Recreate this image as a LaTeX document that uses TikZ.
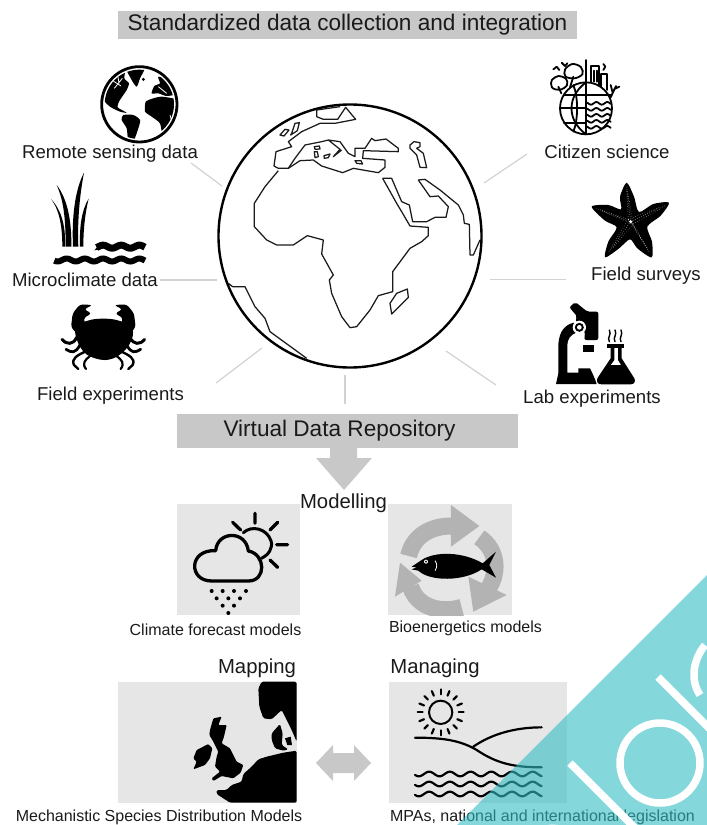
\documentclass[tikz,border=0pt]{standalone}
\usepackage{fontspec}
\setmainfont{Liberation Sans}
\usetikzlibrary{calc}
\definecolor{ink}{HTML}{1A1A1A}
\definecolor{barGrey}{HTML}{C8C8C8}
\definecolor{panel}{HTML}{E6E6E6}
\definecolor{rec}{HTML}{B3B3B3}
\definecolor{spoke}{HTML}{D2D2D2}
\definecolor{tealc}{RGB}{50,190,197}
\tikzset{
 zc/.style 2 args={shift={(#1pt,-#2pt)},x=.33333pt,y=-.33333pt},
 lab/.style={font=\fontsize{18.6pt}{20pt}\selectfont,text=ink,inner sep=0pt},
 sublab/.style={font=\fontsize{16pt}{18pt}\selectfont,text=ink,inner sep=0pt},
 head/.style={font=\fontsize{20.3pt}{22pt}\selectfont,text=ink,inner sep=0pt},
 bar/.style={fill=barGrey,inner sep=0pt,font=\fontsize{22.6pt}{24pt}\selectfont,text=ink},
 spokeline/.style={draw=spoke,line width=1.2pt},
 coast/.style={line width=1.25pt,draw=ink,line join=round},
 stroke/.style={draw=black,line cap=round,line join=round},
 logo/.style={draw=white,line width=7.5pt},
}
\begin{document}
\begin{tikzpicture}[x=1pt,y=-1pt]
\useasboundingbox (0,0) rectangle (707,825);
% bars
\node[bar,minimum width=459pt,minimum height=28pt] (title) at (347.5,25) {\raisebox{-1pt}{Standardized data collection and integration}};
\node[bar,minimum width=341pt,minimum height=34pt] (repo) at (347.5,431) {\hspace*{-16pt}\raisebox{-1pt}{Virtual Data Repository}};
\fill[barGrey] (330,448) -- (357,448) -- (357,458) -- (372,458) -- (344,490) -- (316,458) -- (330,458) -- cycle;
% earth
\node[circle,draw=black,line width=2.4pt,minimum size=263pt,inner sep=0pt] (earth) at (350,236) {};
\begin{scope}[zc={200}{90}]
 \draw[coast] (548,265) -- (575,265) -- (605,335) -- (628,345) -- (638,395) -- (680,395) -- (705,382) -- (738,382) -- (745,350) -- (715,318) -- (690,320) -- (655,270) -- (675,268) -- (720,300) -- (775,345) -- (790,375) -- (793,400) -- (808,403) -- (810,495) -- (820,495) -- (840,450);
 \draw[coast] (548,265) -- (590,340) -- (605,365) -- (630,408) -- (685,412) -- (685,437) -- (665,455) -- (630,475) -- (578,545) -- (578,605) -- (535,617) -- (510,660) -- (470,710) -- (450,713) -- (425,680) -- (395,610) -- (388,570) -- (400,555) -- (365,492) -- (370,450) -- (322,437) -- (280,465) -- (230,465) -- (200,450) -- (163,410) -- (163,340) -- (195,290) -- (235,242);
 \draw[coast] (570,640) -- (575,672) -- (625,622) -- (622,597) -- (590,610) -- cycle;
 \draw[coast] (85,580) -- (98,590) -- (135,590) -- (165,650) -- (195,685) -- (210,725) -- (320,805);
\end{scope}
\begin{scope}[zc={260}{90}]
 \draw[coast] (240,50) -- (170,60) -- (170,80) -- (190,88) -- (233,88) -- (257,52) -- (287,88) -- (225,100) -- (180,100) -- (125,125) -- (85,155) -- (95,170) -- (48,185) -- (42,228) -- (55,235) -- (85,235) -- (120,212) -- (160,210) -- (185,228) -- (248,248) -- (280,235) -- (355,248) -- (375,232) -- (375,210) -- (308,205) -- (310,182) -- (415,185) -- (415,175) -- (378,147) -- (345,152) -- (335,145) -- (315,175) -- (285,175) -- (285,200) -- (265,190) -- (240,155) -- (205,150) -- (240,178) -- (220,200) -- (245,180);
 \draw[coast] (85,235) -- (105,205) -- (135,165) -- (185,155) -- (205,150);
 \draw[coast] (60,135) -- (75,118) -- (87,120) -- (72,138) -- cycle;
 \draw[coast] (95,130) -- (105,100) -- (118,98) -- (112,122) -- (92,135) -- cycle;
 \draw[coast] (163,170) -- (178,168) -- (180,177) -- (165,178) -- cycle;
 \draw[coast] (163,185) -- (172,185) -- (175,200) -- (165,203) -- cycle;
 \draw[coast] (192,197) -- (210,192) -- (205,203) -- (193,205) -- cycle;
 \draw[coast] (285,212) -- (303,212) -- (308,222) -- (290,220) -- cycle;
 \draw[coast] (450,165) -- (462,155) -- (480,158) -- (480,170) -- (470,175) -- (490,190) -- (500,233) -- (480,232) -- (470,195) -- (450,175) -- cycle;
\end{scope}
% labels
\node[lab] (remote) at (110,154) {Remote sensing data};
\node[lab] (micro) at (85,280) {Microclimate data};
\node[lab] (fieldexp) at (110.5,395.5) {Field experiments};
\node[lab] (citizen) at (607,152) {Citizen science};
\node[lab] (surveys) at (646,276) {Field surveys};
\node[lab] (labexp) at (592,399) {Lab experiments};
\node[head] (model) at (343.5,503.5) {Modelling};
% spokes
\coordinate (s1) at (191,163); \coordinate (e1) at (222,186);
\coordinate (s2) at (160,280); \coordinate (e2) at (217,280);
\coordinate (s3) at (216,383); \coordinate (e3) at (262,348);
\coordinate (s4) at (345,404); \coordinate (e4) at (345,375);
\coordinate (s5) at (496,385); \coordinate (e5) at (446,351);
\coordinate (s6) at (566,279.5); \coordinate (e6) at (490,279.5);
\coordinate (s7) at (527,154); \coordinate (e7) at (484,183);
\foreach \i in {1,...,7}{\draw[spokeline] (s\i) -- (e\i);}
% globe icon
\begin{scope}[zc={95}{60}]
 \draw[line width=2.8pt] (133,133) circle (113);
 \begin{scope}
 \clip (133,133) circle (104);
 \fill plot[smooth cycle,tension=.4] coordinates {(25,118) (30,85) (55,45) (90,25) (88,55) (102,70) (95,90) (85,105) (72,125) (68,142) (95,158) (75,155) (45,140)};
 \fill plot[smooth cycle,tension=.4] coordinates {(85,165) (115,165) (135,180) (130,205) (115,245) (100,245) (95,205) (80,180)};
 \fill plot[smooth cycle,tension=.4] coordinates {(92,18) (150,18) (135,55) (125,80) (110,60)};
 \fill plot[smooth cycle,tension=.3] coordinates {(175,115) (200,110) (245,120) (250,180) (222,215) (205,238) (195,190) (170,170) (150,155) (152,125)};
 \fill plot[smooth cycle,tension=.4] coordinates {(170,100) (178,78) (195,70) (190,50) (225,62) (245,100) (215,108) (190,100)};
 \draw[white,line width=.8pt] (50,60) -- (78,78) (58,85) -- (82,55) (68,45) -- (72,70) (190,80) -- (215,100) (225,165) -- (232,190);
 \fill (145,58) circle (5);
 \end{scope}
\end{scope}
% grass and water
\begin{scope}[zc={0}{50}]
 \fill (197,590) .. controls (197,500) and (190,450) .. (170,405) .. controls (205,450) and (215,520) .. (214,590) -- cycle;
 \fill (219,590) .. controls (215,500) and (225,420) .. (252,368) .. controls (238,440) and (232,520) .. (235,590) -- cycle;
 \fill (240,590) .. controls (238,530) and (245,480) .. (266,446) .. controls (255,490) and (250,540) .. (250,590) -- cycle;
 \fill (187,590) .. controls (187,520) and (175,475) .. (153,447) .. controls (180,475) and (198,520) .. (195,590) -- cycle;
 \draw[line width=6pt] plot[domain=163:435,samples=70] (\x,{630+4.5*sin(6.6*\x+30)});
 \draw[line width=7pt] plot[domain=290:435,samples=40] (\x,{590+4.5*sin(6.6*\x+30)});
 \fill (283,601) -- (300,581) -- (300,598) -- cycle;
\end{scope}
% crab
\begin{scope}[zc={0}{50}]
 \fill plot[smooth cycle,tension=.7] coordinates {(226,835) (260,813) (310,806) (360,813) (397,835) (387,885) (340,925) (285,925) (243,895)};
 \foreach \s in {1,-1}{
 \begin{scope}[shift={(310,0)},xscale=\s]
  \fill[rounded corners=3pt] (-97,832) -- (-92,790) -- (-70,763) -- (-32,765) -- (-58,778) -- (-35,790) -- (-60,805) -- (-52,825) -- (-68,850) -- (-80,850) -- cycle;
  \draw[stroke,line width=3pt] (-80,862) .. controls (-90,885) and (-110,885) .. (-124,868);
  \draw[stroke,line width=2.8pt] (-70,885) .. controls (-85,912) and (-95,908) .. (-112,898);
  \draw[stroke,line width=2.4pt] (-55,905) .. controls (-75,915) and (-98,925) .. (-88,945) -- (-75,957);
  \draw[stroke,line width=2.2pt] (-40,918) .. controls (-55,930) and (-65,940) .. (-52,957);
 \end{scope}}
\end{scope}
% citizen icon
\begin{scope}[zc={490}{50},line width=1.8pt]
 \draw[stroke] (288,175) circle (78);
 \draw[stroke] (288,30) -- (288,253);
 \draw[stroke] (288,97) .. controls (230,140) and (230,210) .. (288,253);
 \draw[stroke] (250,105) .. controls (265,140) and (265,210) .. (250,245);
 \draw[stroke] (222,135) -- (362,135) (210,175) -- (288,175) (222,218) -- (288,218);
 \foreach \y in {160,178,196,214,232}{\draw[stroke] plot[domain=291:362,samples=24] (\x,{\y+4*sin(11*\x)});}
 \draw[stroke] (214,130) -- (205,110) (240,112) -- (250,80);
 \draw[stroke] plot[smooth cycle,tension=.9] coordinates {(183,100) (195,82) (217,80) (232,95) (222,114) (195,118)};
 \draw[stroke] plot[smooth cycle,tension=.9] coordinates {(223,70) (235,48) (260,44) (278,62) (268,80) (238,84)};
 \draw[stroke] (303,95) -- (303,48) -- (327,48) -- (327,105) (333,110) -- (333,72) -- (350,72) -- (350,120);
 \draw[stroke] (312,62) -- (312,95) (320,62) -- (320,95);
 \draw[stroke] (340,60) -- (346,50) -- (340,42);
 \draw[stroke] (362,142) -- (378,108) (368,128) -- (362,105) (372,118) -- (388,110);
 \draw[stroke] (190,58) -- (200,50) -- (208,60) (215,38) -- (225,48) -- (232,40);
\end{scope}
% starfish
\begin{scope}[zc={490}{50}]
 \fill plot[smooth cycle,tension=.45] coordinates {(410,398) (432,440) (447,486) (490,462) (537,458) (512,497) (472,530) (486,575) (485,622) (442,595) (420,568) (385,597) (345,622) (355,575) (380,532) (345,512) (305,470) (355,465) (393,478) (390,440)};
 \foreach \a/\b in {410/410,525/467,478/606,355/608,318/475}{
  \draw[white,opacity=.7,line width=.6pt,dash pattern=on .6pt off 1.7pt] (422,515) -- (\a,\b);
  \draw[white,opacity=.6,line width=.5pt,dash pattern=on .6pt off 1.9pt] ($(422,515)+(7,7)$) -- ($(\a,\b)!.15!(422,515)+(2,2)$);
  \draw[white,opacity=.6,line width=.5pt,dash pattern=on .6pt off 1.9pt] ($(422,515)+(-7,-7)$) -- ($(\a,\b)!.15!(422,515)+(-2,-2)$);
 }
 \fill[white] (422,515) circle (5);
\end{scope}
% microscope & flask
\begin{scope}[zc={490}{50}]
 \fill[rounded corners=2pt] (256,756) -- (238,772) -- (262,800) -- (255,812) -- (285,845) -- (283,870) -- (325,870) -- (325,785) -- (292,785) -- cycle;
 \fill (280,885) rectangle (312,905);
 \fill (252,818) .. controls (215,825) and (205,860) .. (205,890) -- (205,970) -- (198,1002) -- (320,1002) .. controls (315,985) and (305,965) .. (300,955) -- (265,955) -- (265,968) -- (232,968) -- (232,885) .. controls (232,870) and (240,855) .. (258,848) -- cycle;
 \fill[white] (268,832) circle (20);
 \fill (268,832) circle (13.5);
 \fill[white] (268,832) circle (7);
 \fill (352,883) rectangle (403,893);
 \fill (362,893) -- (362,925) -- (322,985) .. controls (318,998) and (325,1003) .. (335,1003) -- (422,1003) .. controls (432,1003) and (438,995) .. (433,985) -- (395,925) -- (395,893) -- (384,893) -- (384,930) -- (393,945) -- (362,945) -- (373,930) -- (373,893) -- cycle;
 \foreach \x in {358,375,393}{\draw[stroke,line width=1.4pt] (\x,875) .. controls (\x-8,862) and (\x+8,855) .. (\x,840);}
\end{scope}
% panels
\fill[panel] (177,504) rectangle (300,615);
\fill[panel] (388,504) rectangle (512,615);
\fill[panel] (118,682) rectangle (296.7,802.5);
\fill[panel] (389,682) rectangle (566.7,802.5);
% cloud
\begin{scope}[zc={120}{450}]
 \draw[stroke,line width=3.3pt] (275,393) .. controls (205,393) and (205,298) .. (287,302) .. controls (292,242) and (378,240) .. (385,303) .. controls (437,312) and (440,393) .. (385,393) -- cycle;
 \draw[stroke,line width=3pt] (370,248) .. controls (395,225) and (440,235) .. (453,272) .. controls (460,295) and (445,315) .. (424,325);
 \draw[stroke,line width=3.3pt] (405,190) -- (405,220) (338,217) -- (362,240) (473,217) -- (450,240) (470,284) -- (503,284) (450,330) -- (473,352);
 \foreach \p in {(275,423),(308,423),(342,423),(378,423),(290,445),(325,445),(360,445),(308,467),(342,467),(325,489)}{\fill \p circle (6);}
\end{scope}
% recycle arrows and fish
\begin{scope}[zc={120}{450}]
 \begin{scope}
 \clip (805,162) rectangle (1175,495);
 \draw[rec,line width=17pt] (866,318) .. controls (880,255) and (935,228) .. (995,228);
 \fill[rec] (993,165) -- (1078,228) -- (993,290) -- cycle;
 \draw[rec,line width=17pt] (1078,262) .. controls (1135,300) and (1140,375) .. (1095,430);
 \fill[rec] (1045,380) -- (1160,435) -- (1060,485) -- cycle;
 \draw[rec,line width=17pt] (1025,472) .. controls (960,492) and (890,470) .. (872,410);
 \fill[rec] (840,338) -- (905,392) -- (825,440) -- cycle;
 \end{scope}
 \fill (875,350) -- (905,330) .. controls (945,303) and (1030,305) .. (1088,340) -- (1128,305) -- (1108,345) -- (1128,383) -- (1085,358) .. controls (1030,395) and (930,395) .. (895,362) -- (875,358) -- (890,352) -- cycle;
 \fill[white] (918,335) circle (6);
 \fill (918,335) circle (3);
 \draw[white,line width=.8pt] (945,332) .. controls (952,342) and (952,352) .. (945,362);
\end{scope}
\node[sublab] (climate) at (215.5,630) {Climate forecast models};
\node[sublab] (bio) at (465.5,628.5) {Bioenergetics models};
\node[head] (mapping) at (257,668) {Mapping};
\node[head] (managing) at (435,668) {Managing};
\node[sublab] (mech) at (159,817) {Mechanistic Species Distribution Models};
\node[sublab] (mpa) at (542.5,817) {MPAs, national and international legislation};
% map
\begin{scope}[zc={0}{650}]
 \fill[rounded corners=1.5pt] (785,95) -- (890,95) -- (890,275) -- (875,240) -- (845,180) -- (815,208) -- (790,205) -- (778,170) -- (775,115) -- cycle;
 \fill[rounded corners=1.5pt] (815,250) -- (840,222) -- (848,250) -- (845,285) -- (865,298) -- (850,302) -- (825,295) -- (815,270) -- cycle;
 \fill (855,265) -- (872,260) -- (876,285) -- (862,285) -- cycle;
 \fill[rounded corners=1.5pt] (890,302) -- (850,308) -- (800,320) -- (775,328) -- (755,350) -- (730,372) -- (725,395) -- (695,405) -- (680,420) -- (650,420) -- (650,432) -- (690,458) -- (890,458) -- cycle;
 \fill[rounded corners=1pt] (630,240) -- (640,205) -- (665,200) -- (655,225) -- (680,225) -- (672,260) -- (665,280) -- (690,295) -- (710,335) -- (730,345) -- (722,368) -- (700,385) -- (665,378) -- (640,393) -- (635,385) -- (660,365) -- (645,350) -- (650,320) -- (655,305) -- (640,275) -- (628,255) -- cycle;
 \fill[rounded corners=1pt] (580,325) -- (590,300) -- (625,282) -- (637,295) -- (630,325) -- (615,345) -- (580,358) -- (590,335) -- cycle;
\end{scope}
% double arrow
\fill[barGrey] (316,763) -- (333,745) -- (333,753) -- (354,753) -- (354,745) -- (371,763) -- (354,781) -- (354,773) -- (333,773) -- (333,781) -- cycle;
% managing icon
\begin{scope}[zc={370}{570}]
 \draw[stroke,line width=2pt] (212,427) circle (35);
 \foreach \a in {0,22.5,...,337.5}{\draw[stroke,line width=2.2pt] ($(212,427)+(\a:54)$) -- ($(212,427)+(\a:69)$);}
 \draw[stroke,line width=2.2pt] (135,503) .. controls (215,503) and (270,510) .. (320,540) .. controls (380,580) and (430,592) .. (515,592);
 \draw[stroke,line width=2.2pt] (310,530) .. controls (360,495) and (430,472) .. (515,472);
 \foreach \y in {612,642,672}{\draw[stroke,line width=2.2pt] plot[domain=135:515,samples=90] (\x,{\y+7*sin(5.8*\x-40)});}
\end{scope}
% logo triangle
\fill[tealc,fill opacity=.6] (707,575) -- (457,825) -- (707,825) -- cycle;
\begin{scope}
 \clip (707,575) -- (457,825) -- (707,825) -- cycle;
 \draw[logo] (570,763) -- (640,833);
 \draw[logo] (658,677) -- (730,749);
 \draw[logo] (660,763) circle (40);
 \draw[logo] (705,645) .. controls (693,660) and (690,680) .. (700,695);
 \draw[logo] (535,840) .. controls (540,828) and (552,825) .. (568,832);
\end{scope}
\end{tikzpicture}
\end{document}
